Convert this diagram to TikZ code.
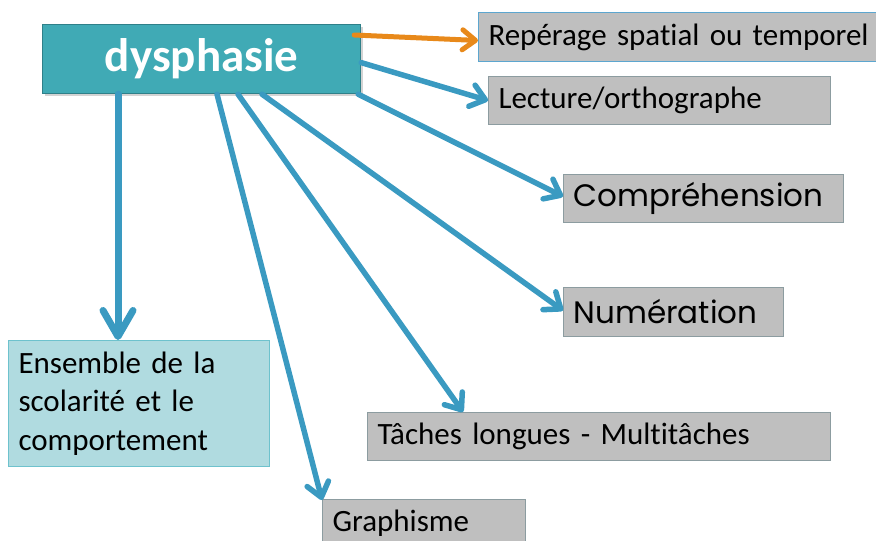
\documentclass[tikz,border=0pt]{standalone}
\usepackage{fontspec}
\setmainfont{Carlito}[Ligatures=NoCommon]
\newfontfamily\geofont{Poppins}
\usetikzlibrary{arrows.meta,shadows,positioning}
\definecolor{arrowblue}{RGB}{58,154,193}
\definecolor{arroworange}{RGB}{232,137,26}
\definecolor{mainfill}{RGB}{64,170,181}
\definecolor{mainborder}{RGB}{47,128,137}
\definecolor{grayfill}{RGB}{191,191,191}
\definecolor{grayborder}{RGB}{140,156,160}
\definecolor{lightblueborder}{RGB}{92,166,207}
\definecolor{ensfill}{RGB}{176,219,224}
\definecolor{ensborder}{RGB}{110,194,205}
\tikzset{
  graybox/.style={draw=grayborder, line width=1pt, fill=grayfill, anchor=north west,
    inner xsep=10pt, inner ysep=0pt, align=left, font=\fontsize{31}{38.5}\selectfont},
  link/.style={draw=arrowblue, line width=5.5pt, line cap=round,
    -{Straight Barb[length=14pt,width=22pt,line cap=round,line join=round]}},
  biglink/.style={draw=arrowblue, line width=7pt, line cap=round,
    -{Straight Barb[length=26pt,width=30pt,line cap=round,line join=round]}},
  orangelink/.style={draw=arroworange, line width=5pt, line cap=round,
    -{Straight Barb[length=13pt,width=20pt,line cap=round,line join=round]}},
}
\begin{document}
\begin{tikzpicture}[x=1pt,y=-1pt]
\useasboundingbox (0,0) rectangle (876,541);
% main node
\node[draw=mainborder, line width=1.2pt, fill=mainfill, anchor=north west,
  minimum width=318pt, minimum height=69pt, text=white,
  font=\fontsize{47}{56}\selectfont\bfseries,
  drop shadow={opacity=0.35, shadow xshift=2pt, shadow yshift=-2pt}]
  (main) at (42,24) {dysphasie};
% target boxes
\node[graybox, draw=lightblueborder, inner xsep=10pt, text width=378pt, minimum height=49pt] (rep) at (478,12) {\mbox{Repérage spatial ou temporel}};
\node[graybox, text width=322pt, minimum height=48pt] (lect) at (488,76) {\mbox{Lecture/orthographe}};
\node[graybox, text width=260pt, minimum height=48pt, font=\geofont\fontsize{31}{38}\selectfont] (comp) at (563,174) {Compréhension};
\node[graybox, text width=200pt, minimum height=49pt, font=\geofont\fontsize{31}{38}\selectfont] (num) at (563,287) {Numération};
\node[graybox, text width=443pt, minimum height=48pt] (tache) at (367,412) {\mbox{Tâches longues - Multitâches}};
\node[graybox, text width=183pt, minimum height=48pt] (graph) at (322,499) {Graphisme};
\node[graybox, draw=ensborder, fill=ensfill, text width=241pt, minimum height=126pt] (ens) at (8,340) {Ensemble de la\\scolarité et le\\comportement};
% connectors
\draw[orangelink] ([xshift=-7pt,yshift=-11pt]main.north east) -- ([yshift=-3.5pt]rep.west);
\draw[link] ([yshift=-3.5pt]main.east) -- (lect.west);
\draw[link] ([xshift=-3pt]main.south east) -- ([yshift=2pt]comp.west);
\draw[link] ([xshift=220pt]main.south west) -- ([yshift=1.5pt]num.west);
\draw[link] ([xshift=196pt]main.south west) -- ([xshift=96pt]tache.north west);
\draw[link] ([xshift=175pt]main.south west) -- ([yshift=-1pt]graph.north west);
\draw[biglink] ([xshift=76pt]main.south west) -- ([xshift=110pt]ens.north west);
\end{tikzpicture}
\end{document}
